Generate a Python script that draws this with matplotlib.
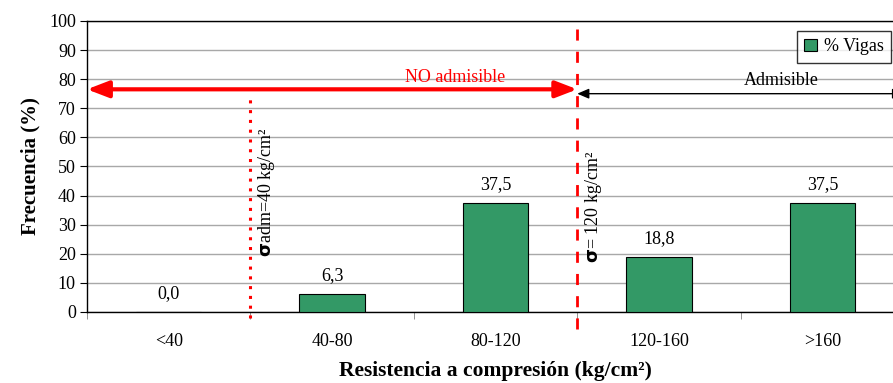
import matplotlib
matplotlib.use("Agg")
import matplotlib.pyplot as plt
import numpy as np

categories = ["<40", "40-80", "80-120", "120-160", ">160"]
pct_vigas = [0.0, 6.3, 37.5, 18.8, 37.5]
value_labels = ["0,0", "6,3", "37,5", "18,8", "37,5"]
y_ticks = list(range(0, 101, 10))

plt.rcParams["font.family"] = ["Liberation Serif", "DejaVu Serif"]

fig = plt.figure(figsize=(8.93, 3.83), dpi=100)
ax = fig.add_axes([0.0974, 0.1854, 0.915, 0.760])

x = np.arange(len(categories))
bars = ax.bar(x, pct_vigas, width=0.4, color="#339966", edgecolor="black",
              linewidth=0.8, label="% Vigas", zorder=3)

for xi, v, lab in zip(x, pct_vigas, value_labels):
    ax.annotate(lab, (xi, v), xytext=(0, 7), textcoords="offset points",
                ha="center", va="bottom", fontsize=13)

ax.set_xlim(-0.5, len(categories) - 0.5)
ax.set_ylim(0, 100)
ax.set_yticks(y_ticks)
ax.yaxis.grid(True, color="#a8a8a8", linewidth=1, zorder=0)
ax.set_axisbelow(True)

ax.set_xticks(x)
ax.set_xticklabels(categories, fontsize=13)
ax.set_xticks(np.arange(-0.5, len(categories), 1.0), minor=True)
ax.tick_params(axis="x", which="major", length=0, pad=15)
ax.tick_params(axis="x", which="minor", length=5, direction="out", color="#808080")
ax.tick_params(axis="y", length=5, direction="out", labelsize=13, pad=3)

for s in ["left", "bottom", "top"]:
    ax.spines[s].set_color("black")
    ax.spines[s].set_linewidth(1)
ax.spines["right"].set_visible(False)

ax.set_ylabel("Frecuencia (%)", fontsize=15, fontweight="bold", labelpad=6)
ax.set_xlabel("Resistencia a compresión (kg/cm²)", fontsize=15.5,
              fontweight="bold", labelpad=8)

# Limit lines
ax.plot([0.5, 0.5], [-2, 75], color="red", linestyle=(0, (1, 2.2)),
        linewidth=2.2, clip_on=False, zorder=4)
ax.plot([2.5, 2.5], [-6, 100], color="red", linestyle=(0, (4, 4)),
        linewidth=2, clip_on=False, zorder=4)

# Region arrows
ax.annotate("", xy=(-0.5, 76.5), xytext=(2.5, 76.5),
            arrowprops=dict(arrowstyle="<|-|>,head_length=1.3,head_width=0.5",
                            color="red", lw=3, shrinkA=0, shrinkB=0), zorder=5)
ax.text(1.75, 77.5, "NO admisible", color="red", ha="center", va="bottom",
        fontsize=13)
ax.annotate("", xy=(2.5, 75), xytext=(4.5, 75),
            arrowprops=dict(arrowstyle="<|-|>,head_length=0.7,head_width=0.3",
                            color="black", lw=1, shrinkA=0, shrinkB=0),
            annotation_clip=False, zorder=5)
ax.text(3.75, 76.5, "Admisible", color="black", ha="center", va="bottom",
        fontsize=13)

# Rotated labels of the limit values
ax.text(0.6, 19, r"$\mathbf{\sigma}$adm=40 kg/cm²", rotation=90, ha="center",
        va="bottom", fontsize=13)
ax.text(2.6, 17, r"$\mathbf{\sigma}$= 120 kg/cm²", rotation=90, ha="center",
        va="bottom", fontsize=13)

leg = ax.legend(loc="upper left", bbox_to_anchor=(0.869, 0.965), fontsize=13,
                frameon=True, fancybox=False, handlelength=0.7,
                handleheight=0.7, handletextpad=0.4, borderpad=0.4,
                borderaxespad=0)
leg.get_frame().set_edgecolor("black")
leg.get_frame().set_linewidth(1)

fig.savefig("out.png", dpi=100)
